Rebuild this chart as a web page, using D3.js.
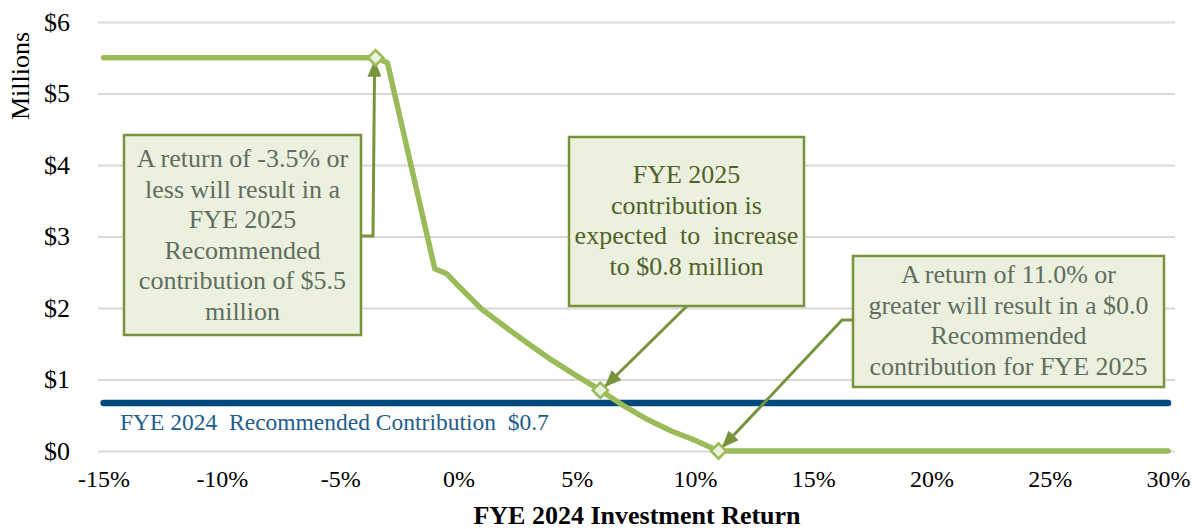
<!DOCTYPE html>
<html>
<head>
<meta charset="utf-8">
<script src="https://cdn.jsdelivr.net/npm/d3@7"></script>
<style>
  body { margin: 0; background: #fff; }
  text { font-family: "Liberation Serif", "Times New Roman", serif; }
</style>
</head>
<body>
<div id="chart"></div>
<script>
// FYE 2025 contribution by FYE 2024 return
var returns = [-15, -3.5, -3, -1, -0.5, 0, 1, 2, 3, 4, 5, 6, 7, 8, 9, 10, 11, 30];
var contrib = [5.5, 5.5, 5.43, 2.55, 2.48, 2.31, 1.98, 1.73, 1.49, 1.26, 1.05, 0.85, 0.63, 0.44, 0.28, 0.15, 0, 0];

// highlighted points
var markReturns = [-3.5, 6, 11];
var markContrib = [5.5, 0.85, 0];

// FYE 2024 recommended contribution
var baseline = 0.67;
var baselineLabel = "FYE 2024  Recommended Contribution  $0.7";

var xTicks = [-15, -10, -5, 0, 5, 10, 15, 20, 25, 30];
var yTicks = [0, 1, 2, 3, 4, 5, 6];

var note1 = ["A return of -3.5% or", "less will result in a", "FYE 2025", "Recommended", "contribution of $5.5", "million"];
var note2 = ["FYE 2025", "contribution is", "expected  to  increase", "to $0.8 million"];
var note3 = ["A return of 11.0% or", "greater will result in a $0.0", "Recommended", "contribution for FYE 2025"];

var width = 1198, height = 529;
var green = "#9BBB59", olive = "#77933C", boxFill = "#EBF1DE";

var svg = d3.select("#chart")
    .append("svg")
    .attr("width", width)
    .attr("height", height);

var x = d3.scaleLinear().domain([-15, 30]).range([103.6, 1168]);
var y = d3.scaleLinear().domain([0, 6]).range([451, 22]);

// y axis + gridlines
var gridLeft = 98, gridRight = 1175;
var yAxis = svg.append("g")
    .attr("transform", `translate(${gridRight},0)`)
    .call(d3.axisLeft(y).tickValues(yTicks)
        .tickSize(gridRight - gridLeft)
        .tickPadding(28)
        .tickFormat(function(d){ return "$" + d; }));
yAxis.select(".domain").remove();
yAxis.selectAll("line").attr("stroke", "#D9D9D9").attr("stroke-width", 2);
yAxis.selectAll("text")
    .attr("font-family", "Liberation Serif, Times New Roman, serif")
    .attr("font-size", 26)
    .attr("fill", "#000");

// x axis
var xAxis = svg.append("g")
    .attr("transform", "translate(0,451)")
    .call(d3.axisBottom(x).tickValues(xTicks)
        .tickSize(0)
        .tickPadding(19)
        .tickFormat(function(d){ return d + "%"; }));
xAxis.select(".domain").remove();
xAxis.selectAll("text")
    .attr("font-family", "Liberation Serif, Times New Roman, serif")
    .attr("font-size", 24)
    .attr("fill", "#000");

// axis titles
svg.append("text")
    .attr("transform", "translate(29,76) rotate(-90)")
    .attr("text-anchor", "middle")
    .attr("font-size", 26)
    .text("Millions");

svg.append("text")
    .attr("x", 637)
    .attr("y", 524)
    .attr("text-anchor", "middle")
    .attr("font-size", 26)
    .attr("font-weight", "bold")
    .text("FYE 2024 Investment Return");

// baseline
svg.append("line")
    .attr("x1", x(-15)).attr("x2", x(30))
    .attr("y1", y(baseline)).attr("y2", y(baseline))
    .attr("stroke", "#004A7C")
    .attr("stroke-width", 6.5)
    .attr("stroke-linecap", "round");

svg.append("text")
    .attr("x", 120)
    .attr("y", 430)
    .attr("font-size", 23.5)
    .attr("fill", "#215D8C")
    .style("white-space", "pre")
    .text(baselineLabel);

// contribution line
var pts = returns.map(function(r, i){ return [r, contrib[i]]; });
svg.append("path")
    .datum(pts)
    .attr("fill", "none")
    .attr("stroke", green)
    .attr("stroke-width", 5.5)
    .attr("stroke-linejoin", "round")
    .attr("stroke-linecap", "round")
    .attr("d", d3.line().x(function(d){ return x(d[0]); }).y(function(d){ return y(d[1]); }));

// arrow marker
svg.append("defs").append("marker")
    .attr("id", "arrow")
    .attr("markerUnits", "userSpaceOnUse")
    .attr("markerWidth", 17).attr("markerHeight", 14)
    .attr("refX", 16).attr("refY", 7)
    .attr("orient", "auto")
    .append("path")
    .attr("d", "M0,0 L17,7 L0,14 Z")
    .attr("fill", olive);

// callout boxes
function callout(lines, box, color, leader){
    svg.append("path")
        .attr("d", d3.line()(leader))
        .attr("fill", "none")
        .attr("stroke", olive)
        .attr("stroke-width", 3)
        .attr("marker-end", "url(#arrow)");

    svg.append("rect")
        .attr("x", box.x).attr("y", box.y)
        .attr("width", box.w).attr("height", box.h)
        .attr("fill", boxFill)
        .attr("stroke", olive)
        .attr("stroke-width", 2.5);

    svg.append("g").selectAll("text")
        .data(lines)
        .join("text")
        .attr("x", box.x + box.w / 2)
        .attr("y", function(d, i){ return box.first + i * 30.6; })
        .attr("text-anchor", "middle")
        .attr("font-size", 26)
        .attr("fill", color)
        .style("white-space", "pre")
        .text(function(d){ return d; });
}

callout(note1, {x: 124, y: 135, w: 237, h: 200, first: 167}, "#5F6E60",
    [[361, 236], [373, 236], [x(-3.5) - 1, y(5.5) + 3]]);
callout(note2, {x: 569, y: 137, w: 235, h: 169, first: 183}, "#4F6228",
    [[687, 306], [x(6) + 5, y(0.85) - 4]]);
callout(note3, {x: 853, y: 256, w: 311, h: 131, first: 283}, "#5F6E60",
    [[853, 320], [842, 320], [x(11) + 4, y(0) - 4]]);

// diamond markers
svg.selectAll(".mark")
    .data(markReturns)
    .join("path")
    .attr("class", "mark")
    .attr("d", d3.symbol().type(d3.symbolDiamond2).size(150))
    .attr("transform", function(d, i){ return `translate(${x(d)},${y(markContrib[i])})`; })
    .attr("fill", boxFill)
    .attr("stroke", green)
    .attr("stroke-width", 2.5);
</script>
</body>
</html>
